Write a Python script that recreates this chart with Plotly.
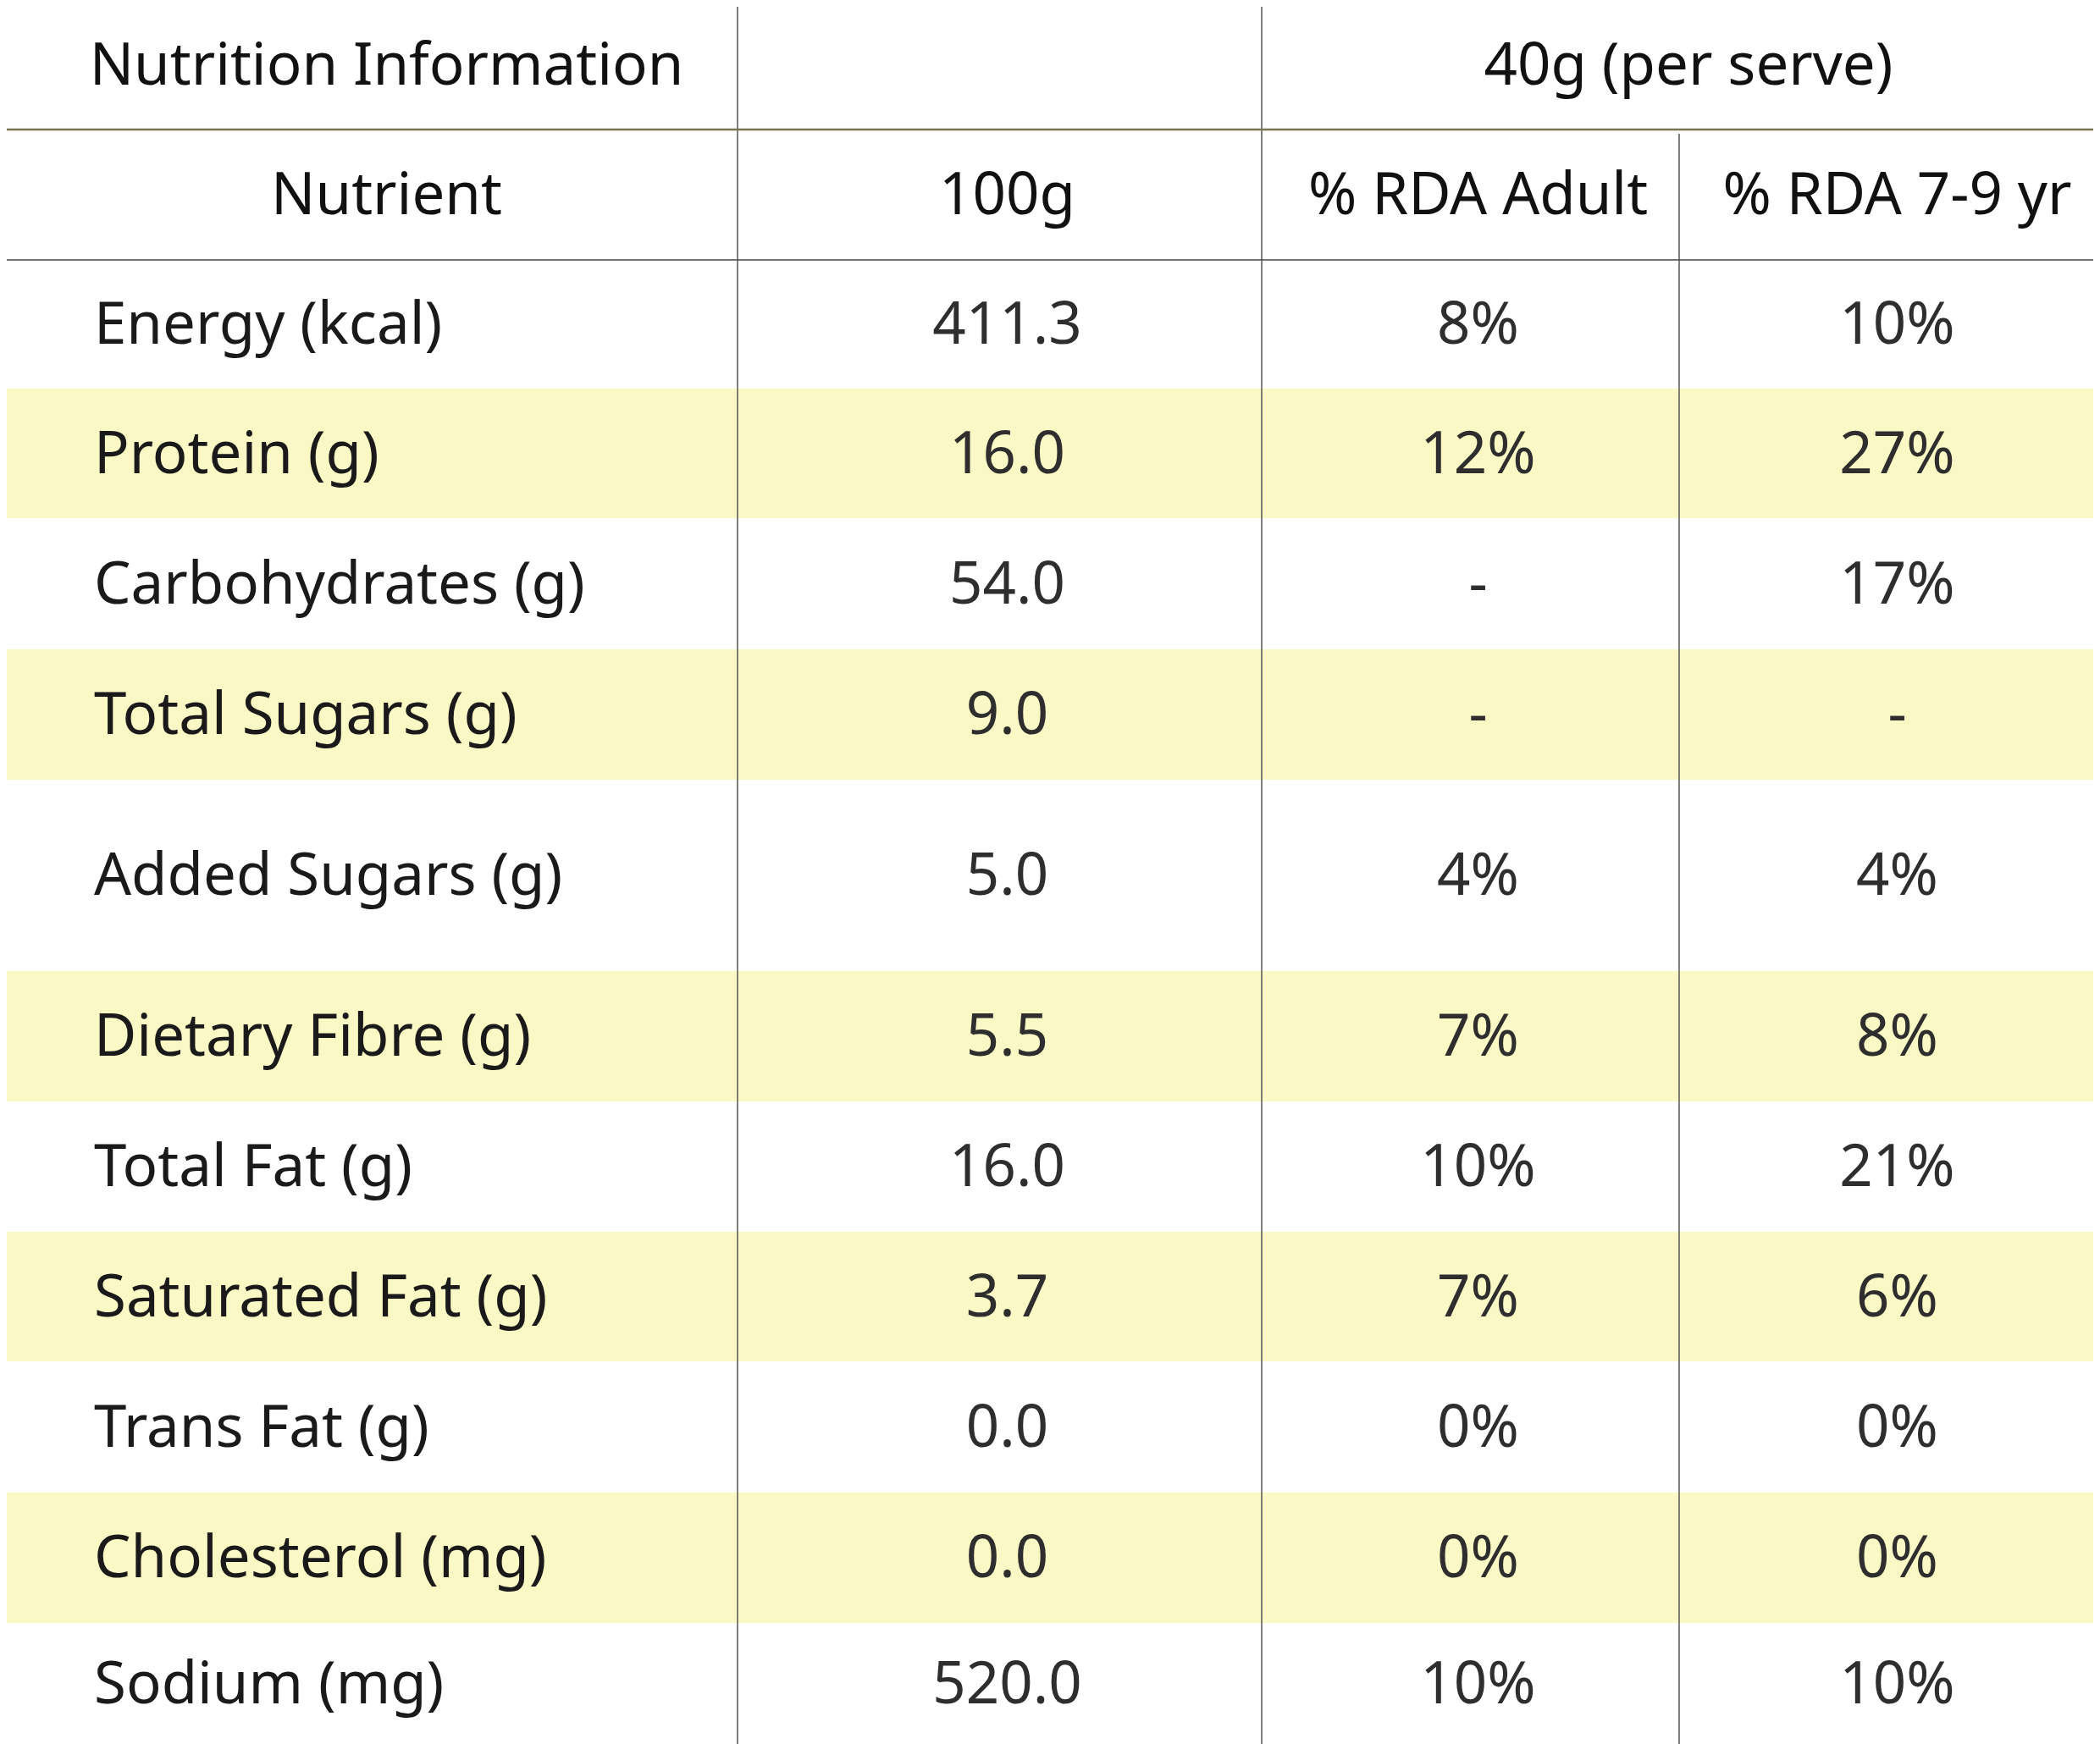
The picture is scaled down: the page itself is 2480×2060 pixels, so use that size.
import plotly.graph_objects as go

# ---- table content ----
header_top = ["Nutrition Information", "", "40g (per serve)"]
header_cols = ["Nutrient", "100g", "% RDA Adult", "% RDA 7-9 yr"]

nutrients = ["Energy (kcal)", "Protein (g)", "Carbohydrates (g)", "Total Sugars (g)",
             "Added Sugars (g)", "Dietary Fibre (g)", "Total Fat (g)", "Saturated Fat (g)",
             "Trans Fat (g)", "Cholesterol (mg)", "Sodium (mg)"]
per_100g = [411.3, 16.0, 54.0, 9.0, 5.0, 5.5, 16.0, 3.7, 0.0, 0.0, 520.0]
rda_adult = [8, 12, None, None, 4, 7, 10, 7, 0, 0, 10]
rda_child = [10, 27, 17, None, 4, 8, 21, 6, 0, 0, 10]

# ---- geometry (px) ----
W, H = 2480, 2060
PAD = 8  # page body margin, so axis units line up with screen pixels
col_edges = [8, 871, 1490, 1983, 2480]
header_h = [153, 154]
row_h = [152, 153, 155, 154, 226, 154, 154, 153, 155, 154, 143]
label_x = 111
DX, DY = 9, 6  # cell text nudge (right / down)

FONT = "Noto Sans"
FS = 69
SHADE = "#FAF8C5"

def pct(v):
    return "-" if v is None else f"{v}%"

# row edges
edges = [0]
for h in header_h + row_h:
    edges.append(edges[-1] + h)
hdr_mid = [(edges[i] + edges[i + 1]) / 2 + DY for i in range(2)]
row_mid = [(edges[i + 2] + edges[i + 3]) / 2 + DY for i in range(len(row_h))]
col_mid = [(col_edges[i] + col_edges[i + 1]) / 2 + DX for i in range(4)]
col_mid[0] += 8

fig = go.Figure()

# shaded bands on alternate rows
shapes = []
for i in range(len(nutrients)):
    if i % 2 == 1:
        shapes.append(dict(type="rect", xref="x", yref="y", layer="below",
                           x0=col_edges[0], x1=col_edges[-1],
                           y0=edges[i + 2], y1=edges[i + 3],
                           fillcolor=SHADE, line=dict(width=0)))

# grid lines
shapes.append(dict(type="line", x0=col_edges[1], x1=col_edges[1], y0=0, y1=H,
                   line=dict(color="#555555", width=1.5)))
shapes.append(dict(type="line", x0=col_edges[2], x1=col_edges[2], y0=0, y1=H,
                   line=dict(color="#555555", width=1.5)))
shapes.append(dict(type="line", x0=col_edges[3], x1=col_edges[3], y0=edges[1] + 5, y1=H,
                   line=dict(color="#555555", width=1.5)))
shapes.append(dict(type="line", x0=col_edges[0], x1=col_edges[-1], y0=edges[1], y1=edges[1],
                   line=dict(color="#77774f", width=2.5)))
shapes.append(dict(type="line", x0=col_edges[0], x1=col_edges[-1], y0=edges[2], y1=edges[2],
                   line=dict(color="#444444", width=1.5)))

# header rows
fig.add_trace(go.Scatter(
    x=[col_mid[0], (col_edges[2] + col_edges[4]) / 2 + DX],
    y=[hdr_mid[0]] * 2,
    text=[header_top[0], header_top[2]],
    mode="text", textposition="middle center",
    textfont=dict(family=FONT, size=FS, color="#111111"),
    hoverinfo="skip"))
fig.add_trace(go.Scatter(
    x=col_mid, y=[hdr_mid[1]] * 4, text=header_cols,
    mode="text", textposition="middle center",
    textfont=dict(family=FONT, size=FS, color="#111111"),
    hoverinfo="skip"))

# nutrient labels
fig.add_trace(go.Scatter(
    x=[label_x] * len(nutrients), y=row_mid, text=nutrients,
    mode="text", textposition="middle right",
    textfont=dict(family=FONT, size=FS, color="#1a1a1a"),
    hoverinfo="skip"))

# values
for c, vals in [(1, [f"{v:.1f}" for v in per_100g]),
                (2, [pct(v) for v in rda_adult]),
                (3, [pct(v) for v in rda_child])]:
    fig.add_trace(go.Scatter(
        x=[col_mid[c]] * len(vals), y=row_mid, text=vals,
        mode="text", textposition="middle center",
        textfont=dict(family=FONT, size=FS, color="#2e2e2e"),
        hoverinfo="skip"))

fig.update_layout(
    width=W - PAD, height=H - PAD,
    margin=dict(l=0, r=0, t=0, b=0),
    paper_bgcolor="white", plot_bgcolor="white",
    showlegend=False,
    shapes=shapes,
    xaxis=dict(range=[PAD, W], visible=False, fixedrange=True),
    yaxis=dict(range=[H, PAD], visible=False, fixedrange=True),
)

fig.write_html("out.html")
